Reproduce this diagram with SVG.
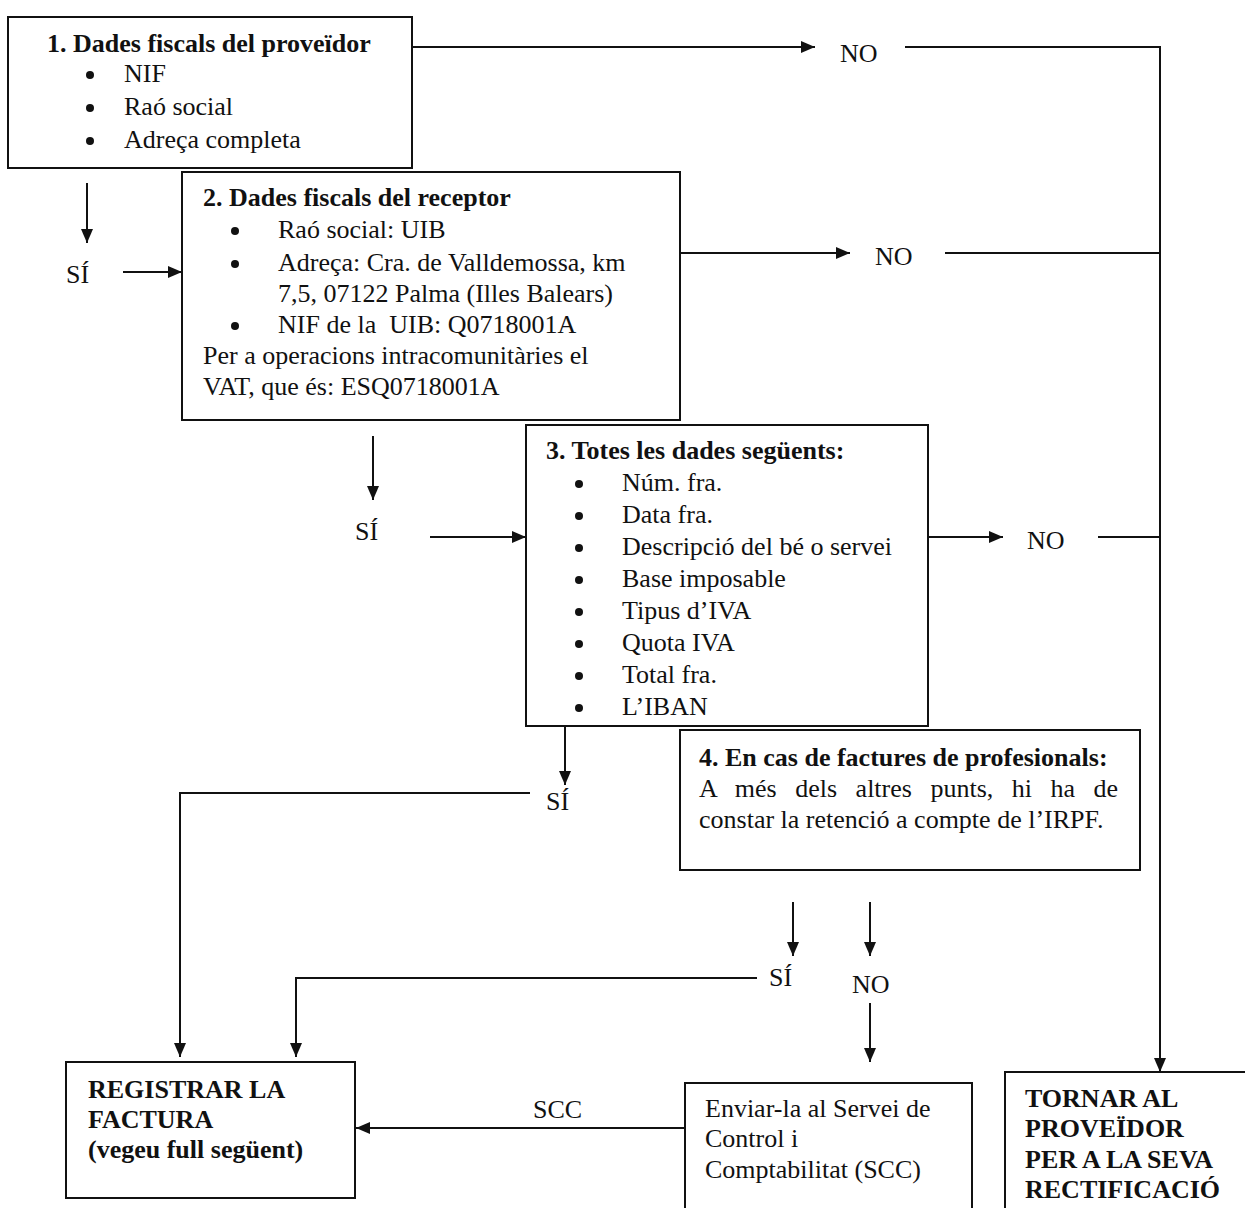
<svg xmlns="http://www.w3.org/2000/svg" width="1245" height="1208" viewBox="0 0 1245 1208">
<style>
text{font-family:"Liberation Serif","Times New Roman",serif;font-size:26px;fill:#111}
.b{font-weight:bold}
.box{fill:#fff;stroke:#111;stroke-width:2}
.ln{fill:none;stroke:#111;stroke-width:2}
</style>
<defs>
<marker id="ah" viewBox="0 0 14 12" refX="14" refY="6" markerWidth="14" markerHeight="12" markerUnits="userSpaceOnUse" orient="auto">
<path d="M0,0 L14,6 L0,12 Z" fill="#111"/>
</marker>
</defs>
<rect width="1245" height="1208" fill="#fff"/>

<g id="connectors">
<path class="ln" d="M412,47 H815" marker-end="url(#ah)"/>
<path class="ln" d="M905,47 H1160 V1072" marker-end="url(#ah)"/>
<path class="ln" d="M680,253 H850" marker-end="url(#ah)"/>
<path class="ln" d="M945,253 H1160"/>
<path class="ln" d="M928,537 H1003" marker-end="url(#ah)"/>
<path class="ln" d="M1098,537 H1160"/>
<path class="ln" d="M87,183 V243" marker-end="url(#ah)"/>
<path class="ln" d="M123,272 H182" marker-end="url(#ah)"/>
<path class="ln" d="M373,436 V500" marker-end="url(#ah)"/>
<path class="ln" d="M430,537 H526" marker-end="url(#ah)"/>
<path class="ln" d="M565,727 V785" marker-end="url(#ah)"/>
<path class="ln" d="M530,793 H180 V1057" marker-end="url(#ah)"/>
<path class="ln" d="M793,902 V956" marker-end="url(#ah)"/>
<path class="ln" d="M870,902 V956" marker-end="url(#ah)"/>
<path class="ln" d="M757,978 H296 V1057" marker-end="url(#ah)"/>
<path class="ln" d="M870,1003 V1062" marker-end="url(#ah)"/>
<path class="ln" d="M685,1128 H356" marker-end="url(#ah)"/>
</g>

<g id="labels">
<text x="840" y="62">NO</text>
<text x="875" y="265">NO</text>
<text x="1027" y="549">NO</text>
<text x="66" y="283">SÍ</text>
<text x="355" y="540">SÍ</text>
<text x="546" y="810">SÍ</text>
<text x="769" y="986">SÍ</text>
<text x="852" y="993">NO</text>
<text x="533" y="1118">SCC</text>
</g>

<g id="node1">
<rect class="box" x="8" y="17" width="404" height="151"/>
<text class="b" x="47" y="52">1. Dades fiscals del proveïdor</text>
<circle cx="90" cy="75" r="4" fill="#111"/><text x="124" y="82">NIF</text>
<circle cx="90" cy="108" r="4" fill="#111"/><text x="124" y="115">Raó social</text>
<circle cx="90" cy="141" r="4" fill="#111"/><text x="124" y="148">Adreça completa</text>
</g>

<g id="node2">
<rect class="box" x="182" y="172" width="498" height="248"/>
<text class="b" x="203" y="206">2. Dades fiscals del receptor</text>
<circle cx="235" cy="231" r="4" fill="#111"/><text x="278" y="238">Raó social: UIB</text>
<circle cx="235" cy="264" r="4" fill="#111"/><text x="278" y="271">Adreça: Cra. de Valldemossa, km</text>
<text x="278" y="302">7,5, 07122 Palma (Illes Balears)</text>
<circle cx="235" cy="326" r="4" fill="#111"/><text x="278" y="333" xml:space="preserve">NIF de la  UIB: Q0718001A</text>
<text x="203" y="364">Per a operacions intracomunitàries el</text>
<text x="203" y="395">VAT, que és: ESQ0718001A</text>
</g>

<g id="node3">
<rect class="box" x="526" y="425" width="402" height="301"/>
<text class="b" x="546" y="459">3. Totes les dades següents:</text>
<circle cx="579" cy="484" r="4" fill="#111"/><text x="622" y="491">Núm. fra.</text>
<circle cx="579" cy="516" r="4" fill="#111"/><text x="622" y="523">Data fra.</text>
<circle cx="579" cy="548" r="4" fill="#111"/><text x="622" y="555">Descripció del bé o servei</text>
<circle cx="579" cy="580" r="4" fill="#111"/><text x="622" y="587">Base imposable</text>
<circle cx="579" cy="612" r="4" fill="#111"/><text x="622" y="619">Tipus d’IVA</text>
<circle cx="579" cy="644" r="4" fill="#111"/><text x="622" y="651">Quota IVA</text>
<circle cx="579" cy="676" r="4" fill="#111"/><text x="622" y="683">Total fra.</text>
<circle cx="579" cy="708" r="4" fill="#111"/><text x="622" y="715">L’IBAN</text>
</g>

<g id="node4">
<rect class="box" x="680" y="730" width="460" height="140"/>
<text class="b" x="699" y="766">4. En cas de factures de profesionals:</text>
<text x="699" y="797" word-spacing="12">A més dels altres punts, hi ha de</text>
<text x="699" y="828">constar la retenció a compte de l’IRPF.</text>
</g>

<g id="node-registrar">
<rect class="box" x="66" y="1062" width="289" height="136"/>
<text class="b" x="88" y="1098">REGISTRAR LA</text>
<text class="b" x="88" y="1128">FACTURA</text>
<text class="b" x="88" y="1158">(vegeu full següent)</text>
</g>

<g id="node-enviar">
<rect class="box" x="685" y="1083" width="287" height="135"/>
<text x="705" y="1117">Enviar-la al Servei de</text>
<text x="705" y="1147">Control i</text>
<text x="705" y="1178">Comptabilitat (SCC)</text>
</g>

<g id="node-tornar">
<rect class="box" x="1005" y="1072" width="250" height="146"/>
<text class="b" x="1025" y="1107">TORNAR AL</text>
<text class="b" x="1025" y="1137">PROVEÏDOR</text>
<text class="b" x="1025" y="1168">PER A LA SEVA</text>
<text class="b" x="1025" y="1198">RECTIFICACIÓ</text>
</g>
</svg>
